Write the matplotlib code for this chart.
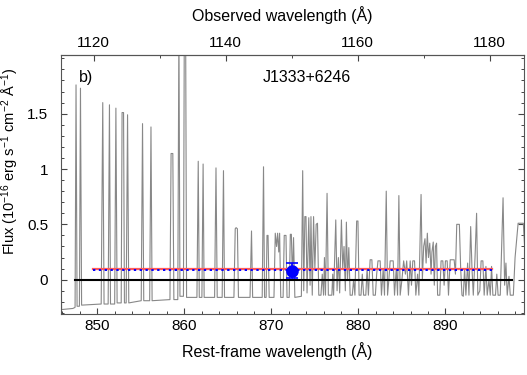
import numpy as np
import matplotlib.pyplot as plt
from matplotlib.ticker import MultipleLocator

plt.rcParams['font.family'] = ['Liberation Sans', 'DejaVu Sans']
plt.rcParams['mathtext.default'] = 'regular'

# redshift of the source (rest -> observed)
z = 0.3183

# spectrum: rest-frame wavelength (A) and flux
wave = [845.80, 845.90, 847.20, 847.45, 847.56, 847.68, 847.95, 848.07, 848.20,
        850.45, 850.63, 850.78, 851.25, 851.40, 851.52, 852.00, 852.14, 852.28,
        852.75, 852.85, 853.02, 853.12, 853.32, 853.48, 853.62, 855.05, 855.20,
        855.34, 856.02, 856.17, 856.30, 858.35, 858.48, 858.68, 858.80, 859.25,
        859.38, 859.50, 859.90, 860.00, 860.15, 860.26, 861.45, 861.60, 861.72,
        862.02, 862.16, 862.28, 863.48, 863.64, 863.78, 864.35, 864.50, 864.62,
        865.70, 865.85, 865.95, 866.10, 866.22, 867.55, 867.72, 867.85, 868.95,
        869.10, 869.22, 869.40, 869.50, 869.62, 869.75, 870.30, 870.45, 870.60,
        870.72, 870.85, 870.95, 871.08, 871.35, 871.48, 871.68, 871.80, 872.05,
        872.18, 872.30, 872.42, 872.55, 872.70, 873.45, 873.60, 873.72, 873.85,
        873.98, 874.10, 874.30, 874.45, 874.55, 874.70, 874.85, 875.00, 875.15,
        875.30, 875.45, 875.70, 875.85, 876.00, 876.10, 876.22, 876.40, 876.55,
        876.95, 877.05, 877.15, 877.40, 877.55, 877.70, 877.85, 878.05, 878.20,
        878.35, 878.50, 878.62, 878.75, 878.90, 879.05, 879.30, 879.45, 879.60,
        879.80, 879.95, 880.08, 880.30, 880.45, 880.60, 880.85, 881.00, 881.15,
        881.35, 881.55, 881.70, 881.95, 882.10, 882.25, 882.50, 882.65, 882.85,
        883.00, 883.20, 883.35, 883.50, 883.65, 884.00, 884.15, 884.35, 884.50,
        884.65, 884.80, 885.00, 885.20, 885.40, 885.55, 885.75, 885.95, 886.10,
        886.25, 886.45, 886.60, 886.80, 886.95, 887.20, 887.35, 887.50, 887.65,
        887.78, 887.92, 888.05, 888.20, 888.35, 888.45, 888.60, 888.72, 888.85,
        888.98, 889.10, 889.35, 889.50, 889.70, 889.85, 890.00, 890.20, 890.35,
        890.55, 891.00, 891.15, 891.30, 891.60, 891.75, 891.90, 892.05, 892.20,
        892.35, 892.55, 892.70, 892.90, 893.05, 893.20, 893.40, 893.58, 893.72,
        893.95, 894.10, 894.30, 894.45, 894.65, 894.80, 895.00, 895.15, 895.30,
        895.45, 895.75, 895.90, 896.05, 896.30, 896.62, 896.80, 896.95, 897.10,
        897.30, 897.45, 897.80, 898.00, 898.35, 898.95, 899.10]
flux = [0.50, -0.27, -0.26, -0.25, 1.76, -0.24, -0.24, 1.73, -0.23,
        -0.22, 1.60, -0.22, -0.22, 1.58, -0.22, -0.22, 1.55, -0.21,
        -0.21, 1.51, 1.51, -0.21, -0.21, 1.49, -0.21, -0.19, 1.41,
        -0.19, -0.19, 1.38, -0.19, -0.18, 1.14, 1.14, -0.18, -0.18,
        2.30, -0.15, -0.15, 2.30, 2.30, -0.16, -0.16, 1.07, -0.16,
        -0.16, 1.045, -0.16, -0.16, 1.01, -0.16, -0.16, 0.985, -0.16,
        -0.16, 0.46, 0.47, 0.46, -0.16, -0.16, 0.44, -0.16, -0.16,
        1.02, -0.16, -0.16, 0.40, 0.40, -0.16, -0.16, 0.42, 0.30,
        0.42, 0.25, 0.42, -0.16, -0.16, 0.40, 0.40, -0.16, -0.16,
        0.41, 0.41, 0.00, 0.38, -0.16, -0.15, 0.985, -0.10, 0.57,
        0.57, -0.12, 0.56, -0.05, 0.57, -0.14, 0.57, 0.10, 0.50,
        0.51, -0.14, -0.14, 0.05, -0.14, 0.20, -0.14, 0.78, -0.14,
        -0.14, 0.05, -0.14, 0.54, -0.10, 0.20, -0.12, 0.54, 0.10,
        0.30, -0.10, 0.52, 0.00, 0.29, -0.14, -0.14, 0.00, -0.14,
        0.53, 0.53, -0.14, -0.14, 0.05, -0.14, -0.14, 0.10, -0.14,
        0.18, 0.18, -0.14, -0.14, 0.05, 0.17, 0.17, -0.14, 0.10,
        -0.14, 0.80, -0.14, 0.00, 0.17, 0.17, -0.14, 0.10, -0.14,
        0.76, -0.14, 0.00, 0.17, 0.05, 0.17, -0.14, 0.17, -0.05,
        0.17, 0.17, -0.14, 0.05, -0.14, 0.77, 0.00, 0.30, 0.37,
        0.15, 0.42, 0.20, 0.33, 0.05, 0.25, 0.34, -0.05, 0.30,
        0.33, -0.14, -0.14, 0.17, 0.17, -0.05, 0.17, 0.17, -0.14,
        0.18, 0.18, 0.05, 0.50, 0.50, 0.10, -0.14, -0.15, 0.10,
        -0.14, 0.15, -0.14, 0.48, 0.10, -0.14, 0.20, 0.60, -0.14,
        -0.10, 0.17, 0.17, -0.14, 0.12, -0.14, 0.00, -0.14, 0.12,
        -0.14, -0.14, 0.05, -0.14, -0.14, 0.74, -0.05, 0.15, -0.14,
        0.03, -0.14, -0.14, 0.20, 0.51, 0.51, 0.30]

# zero level, continuum estimates and the measured point
zero_range = [847.4, 897.6]
fit_range = [849.5, 895.4]
fit_red = 0.10
fit_blue = 0.09
point_wave = 872.42
point_flux = 0.082
point_err = 0.065

yticks = [0, 0.5, 1, 1.5]
ytick_labels = ['0', '0.5', '1', '1.5']
obs_ticks = [1120, 1140, 1160, 1180]

fig = plt.figure(figsize=(5.27, 3.75), dpi=100)
ax = fig.add_axes([0.1152, 0.1627, 0.8795, 0.6906])

ax.plot(wave, flux, color='#888888', lw=0.8, zorder=2)
ax.plot(zero_range, [0, 0], color='black', lw=1.5, zorder=3)
ax.plot(fit_range, [fit_red, fit_red], color='#ff5a5a', lw=1.6, zorder=3)
ax.plot(fit_range, [fit_blue, fit_blue], color='#0000ff', lw=1.4, ls=(0, (1.2, 1.8)), zorder=4)
ax.errorbar([point_wave], [point_flux], yerr=[point_err], fmt='o', color='#0000ff',
            ms=8, capsize=4, elinewidth=1.2, capthick=1.2, zorder=5)

ax.set_xlim(845.8, 899.05)
ax.set_ylim(-0.31, 2.03)

ax.xaxis.set_major_locator(MultipleLocator(10))
ax.xaxis.set_minor_locator(MultipleLocator(2))
ax.set_yticks(yticks)
ax.set_yticklabels(ytick_labels)
ax.yaxis.set_minor_locator(MultipleLocator(0.1))
ax.tick_params(which='both', direction='in', top=False, right=True, labelsize=11,
               colors='#444444', labelcolor='black')
ax.tick_params(which='major', length=4.5, width=0.8)
ax.tick_params(which='minor', length=2.3, width=0.7)
ax.tick_params(axis='y', which='major', pad=9)
for s in ax.spines.values():
    s.set_color('#555555')
    s.set_linewidth(0.8)

top = ax.secondary_xaxis('top', functions=(lambda w: w * (1 + z), lambda w: w / (1 + z)))
top.set_xticks(obs_ticks)
top.xaxis.set_minor_locator(MultipleLocator(10))
top.tick_params(which='both', direction='in', labelsize=11, colors='#444444', labelcolor='black')
top.tick_params(which='major', length=4.5, width=0.8)
top.tick_params(which='minor', length=2.3, width=0.7)
top.spines['top'].set_color('#555555')

ax.set_xlabel('Rest-frame wavelength (Å)', fontsize=11.5)
ax.xaxis.set_label_coords(0.466, -0.11)
fig.text(0.536, 0.96, 'Observed wavelength (Å)', fontsize=11.5, ha='center', va='center')
ax.set_ylabel('Flux (10$^{-16}$ erg s$^{-1}$ cm$^{-2}$ Å$^{-1}$)', fontsize=10.5)
ax.yaxis.set_label_coords(-0.086, 0.59)

ax.text(0.04, 0.915, 'b)', transform=ax.transAxes, fontsize=11.5, ha='left', va='center')
ax.text(0.53, 0.915, 'J1333+6246', transform=ax.transAxes, fontsize=11.5, ha='center', va='center')

fig.savefig('out.png', dpi=100)
